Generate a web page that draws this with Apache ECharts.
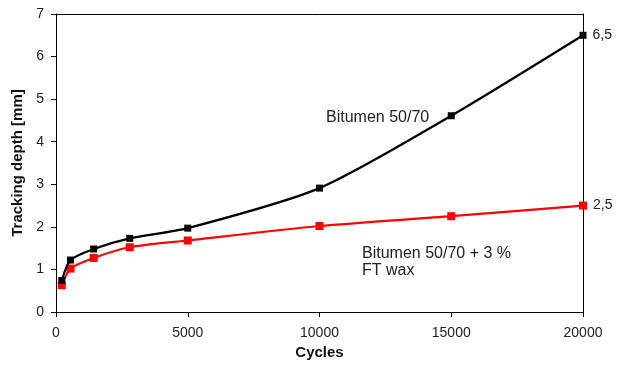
<!DOCTYPE html>
<html>
<head>
<meta charset="utf-8">
<script src="https://cdn.jsdelivr.net/npm/echarts@6/dist/echarts.min.js"></script>
<style>
  html, body { margin: 0; padding: 0; background: #fff; overflow: hidden; }
  #chart { width: 621px; height: 365px; }
</style>
</head>
<body>
<div id="chart"></div>
<script>
// Load cycles and rut depth for both binders
const cycles = [220, 550, 1430, 2800, 5000, 10000, 15000, 20000];
const bitumen = [0.74, 1.22, 1.48, 1.73, 1.97, 2.91, 4.61, 6.5];
const bitumenWax = [0.63, 1.02, 1.27, 1.52, 1.68, 2.02, 2.25, 2.5];
const yTicks = [0, 1, 2, 3, 4, 5, 6, 7];
const xTicks = [0, 5000, 10000, 15000, 20000];

const FONT = 'Liberation Sans, Arial, sans-serif';

function pairs(xs, ys) { return xs.map((x, i) => [x, ys[i]]); }

function endLabel() {
  return {
    show: true,
    position: 'right',
    distance: 6,
    color: '#222',
    fontFamily: FONT,
    fontSize: 14,
    formatter: p => p.dataIndex === cycles.length - 1
      ? String(p.value[1]).replace('.', ',') : ''
  };
}

const chart = echarts.init(document.getElementById('chart'), null, { renderer: 'canvas' });
chart.setOption({
  animation: false,
  backgroundColor: '#fff',
  grid: { left: 56, right: 38, top: 14, bottom: 49, containLabel: false },
  xAxis: [{
    type: 'value',
    min: xTicks[0], max: xTicks[xTicks.length - 1], interval: 5000,
    name: 'Cycles', nameLocation: 'middle', nameGap: 33,
    nameTextStyle: { fontFamily: FONT, fontSize: 15, fontWeight: 'bold', color: '#111' },
    axisLine: { lineStyle: { color: '#000', width: 1 } },
    axisTick: { show: true, inside: false, length: 5, lineStyle: { color: '#000' } },
    axisLabel: { margin: 14, fontFamily: FONT, fontSize: 14, color: '#222', formatter: v => String(v) },
    splitLine: { show: false }
  }, {
    type: 'value', position: 'top',
    min: xTicks[0], max: xTicks[xTicks.length - 1],
    axisLine: { show: true, onZero: false, lineStyle: { color: '#000', width: 1 } },
    axisTick: { show: false }, axisLabel: { show: false }, splitLine: { show: false }
  }],
  yAxis: [{
    type: 'value',
    min: yTicks[0], max: yTicks[yTicks.length - 1], interval: 1,
    name: 'Tracking depth [mm]', nameLocation: 'middle', nameGap: 27,
    nameTextStyle: { fontFamily: FONT, fontSize: 15, fontWeight: 'bold', color: '#111' },
    axisLine: { show: true, lineStyle: { color: '#000', width: 1 } },
    axisTick: { show: true, inside: false, length: 5, lineStyle: { color: '#000' } },
    axisLabel: { margin: 12, fontFamily: FONT, fontSize: 14, color: '#222' },
    splitLine: { show: false }
  }, {
    type: 'value', position: 'right',
    min: yTicks[0], max: yTicks[yTicks.length - 1],
    axisLine: { show: true, onZero: false, lineStyle: { color: '#000', width: 1 } },
    axisTick: { show: false }, axisLabel: { show: false }, splitLine: { show: false }
  }],
  series: [{
    name: 'Bitumen 50/70',
    type: 'line',
    data: pairs(cycles, bitumen),
    smooth: 0.25,
    symbol: 'rect', symbolSize: 7,
    lineStyle: { color: '#000', width: 2.2 },
    itemStyle: { color: '#000' },
    label: endLabel(),
    z: 3
  }, {
    name: 'Bitumen 50/70 + 3 % FT wax',
    type: 'line',
    data: pairs(cycles, bitumenWax),
    smooth: 0.25,
    symbol: 'rect', symbolSize: 8,
    lineStyle: { color: '#ff0000', width: 2.2 },
    itemStyle: { color: '#ff0000' },
    label: endLabel(),
    z: 2
  }],
  graphic: [{
    type: 'text', left: 326, top: 110,
    style: { text: 'Bitumen 50/70', font: '16px ' + FONT, fill: '#222' }
  }, {
    type: 'text', left: 362, top: 245,
    style: { text: 'Bitumen 50/70 + 3 %\nFT wax', font: '16px ' + FONT, fill: '#222', lineHeight: 17 }
  }]
});
</script>
</body>
</html>
